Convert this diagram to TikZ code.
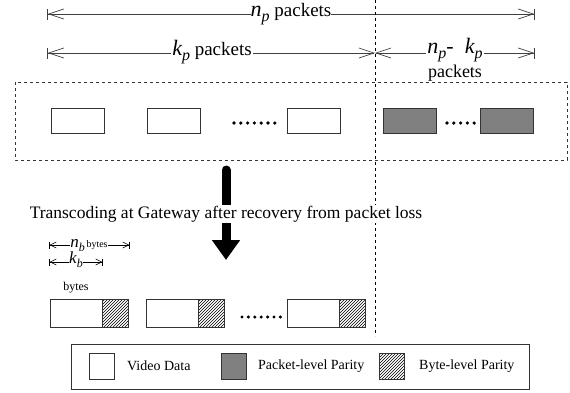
\documentclass[tikz,border=0pt]{standalone}
\usepackage{fontspec}
\setmainfont{Liberation Serif}
\usetikzlibrary{arrows.meta,patterns}
% italic letter with italic index: {letter}{index}{size}{index size}
\newcommand{\ix}[4]{{\fontsize{#3}{#3}\selectfont\itshape #1\raisebox{-0.25em}{\fontsize{#4}{#4}\selectfont #2}}}
\newcommand{\fs}[1]{\fontsize{#1}{#1}\selectfont}
\tikzset{
 pkt/.style={draw=black!80,minimum width=53pt,minimum height=25pt,inner sep=0pt,outer sep=0pt},
 bpkt/.style={draw=black!80,minimum height=28pt,inner sep=0pt,outer sep=0pt},
 lgbox/.style={draw=black!80,minimum width=25pt,minimum height=26pt,inner sep=0pt},
 lbl/.style={fill=white,inner sep=1pt,anchor=mid},
 dimline/.style={line width=0.7pt,draw=black!75},
}
\begin{document}
\begin{tikzpicture}[x=1pt,y=-1pt]
\useasboundingbox (0,0) rectangle (570,392);
\pgfmathsetmacro{\kmid}{375}
\pgfmathsetmacro{\kleft}{47}
\pgfmathsetmacro{\kright}{535}
% dimension lines for the packets
\coordinate (np-l) at (\kleft,14);
\coordinate (np-r) at (\kright,14);
\coordinate (kp-l) at (\kleft,53);
\coordinate (kp-m) at (\kmid,53);
\coordinate (kp-r) at (\kright,53);
\draw[dimline,{Bar[width=11pt]Straight Barb[length=15pt,width=10pt]}-{Straight Barb[length=15pt,width=10pt]Bar[width=11pt]}](np-l)--(np-r);
\draw[dimline,{Bar[width=11pt]Straight Barb[length=15pt,width=10pt]}-{Straight Barb[length=15pt,width=10pt]}](kp-l)--(kp-m);
\draw[dimline,{Straight Barb[length=15pt,width=10pt]}-{Straight Barb[length=15pt,width=10pt]Bar[width=11pt]}](kp-m)--(kp-r);
\node[lbl,inner sep=0pt] (np-t) at (291,14) {\ix{n}{p}{22}{16}\fs{19}~packets};
\node[lbl] (kp-t) at (212,53) {\ix{k}{p}{22}{16}\fs{19}~packets};
\node[lbl] (nk-t) at (455,51) {\ix{n}{p}{22}{16}\fs{22}-~~\ix{k}{p}{22}{16}};
\node[inner sep=0pt] (nk-p) at (455,73) {\fs{18}packets};
% the block of packets
\draw[dashed,draw=black!80] (15,82) rectangle (567,160);
\draw[dashed] (\kmid,0)--(\kmid,336);
\foreach \x [count=\i] in {77.5,173.5,313.5}{\node[pkt] (vd\i) at (\x,120.5) {};}
\foreach \x [count=\i] in {410,506.5}{\node[pkt,fill=black!50] (pp\i) at (\x,120.5) {};}
\foreach \i in {0,...,6}{\fill (234+\i*6.8,123) circle (1.8);}
\foreach \i in {0,...,4}{\fill (447+\i*6.8,123) circle (1.8);}
% transcoding
\coordinate (ar-s) at (226,170);
\coordinate (ar-e) at (226,260);
\draw[line width=9pt,line cap=round,-{Triangle[length=20pt,width=27pt]}](ar-s)--(ar-e);
\node[fill=white,inner sep=1pt] (tc) at (226,214) {\fs{17.5}Transcoding at Gateway after recovery from packet loss};
% byte level packets
\foreach \x [count=\i] in {50,146,287}{
 \node[bpkt,minimum width=52pt,anchor=north west] (bd\i) at (\x,299) {};
 \node[bpkt,minimum width=26pt,pattern=north east lines,anchor=west] (bh\i) at (bd\i.east) {};
}
\foreach \i in {0,...,6}{\fill (242+\i*6.4,317) circle (1.7);}
\coordinate (nb-l) at (49,245);
\coordinate (nb-r) at (130,245);
\coordinate (kb-l) at (49,262);
\coordinate (kb-r) at (103,262);
\draw[line width=0.6pt,{Bar[width=7pt]Straight Barb[length=6pt,width=6pt]}-{Straight Barb[length=6pt,width=6pt]Bar[width=7pt]}](nb-l)--(nb-r);
\draw[line width=0.6pt,{Bar[width=7pt]Straight Barb[length=6pt,width=6pt]}-{Straight Barb[length=6pt,width=6pt]Bar[width=7pt]}](kb-l)--(kb-r);
\node[fill=white,inner sep=0.5pt,anchor=mid] (nb-t) at (89,245) {\ix{n}{b}{17}{12}\fs{10}\,bytes};
\node[fill=white,inner sep=0.5pt,anchor=base] (kb-t) at (76,263) {\ix{k}{b}{17}{12}};
\node[inner sep=0pt] (kb-u) at (76,288) {\fs{12}bytes};
% legend
\draw[draw=black!80] (71,344) rectangle (529,389);
\node[lgbox] (lg-v) at (101.5,366) {};
\node[lgbox,fill=black!50] (lg-p) at (233.5,366) {};
\node[lgbox,pattern=north east lines] (lg-b) at (391.5,366) {};
\node[anchor=west,inner sep=0pt] (lt-v) at (127,366) {\fs{14}Video Data};
\node[anchor=west,inner sep=0pt] (lt-p) at (258,366) {\fs{14}Packet-level Parity};
\node[anchor=west,inner sep=0pt] (lt-b) at (419,366) {\fs{14}Byte-level Parity};
\end{tikzpicture}
\end{document}
